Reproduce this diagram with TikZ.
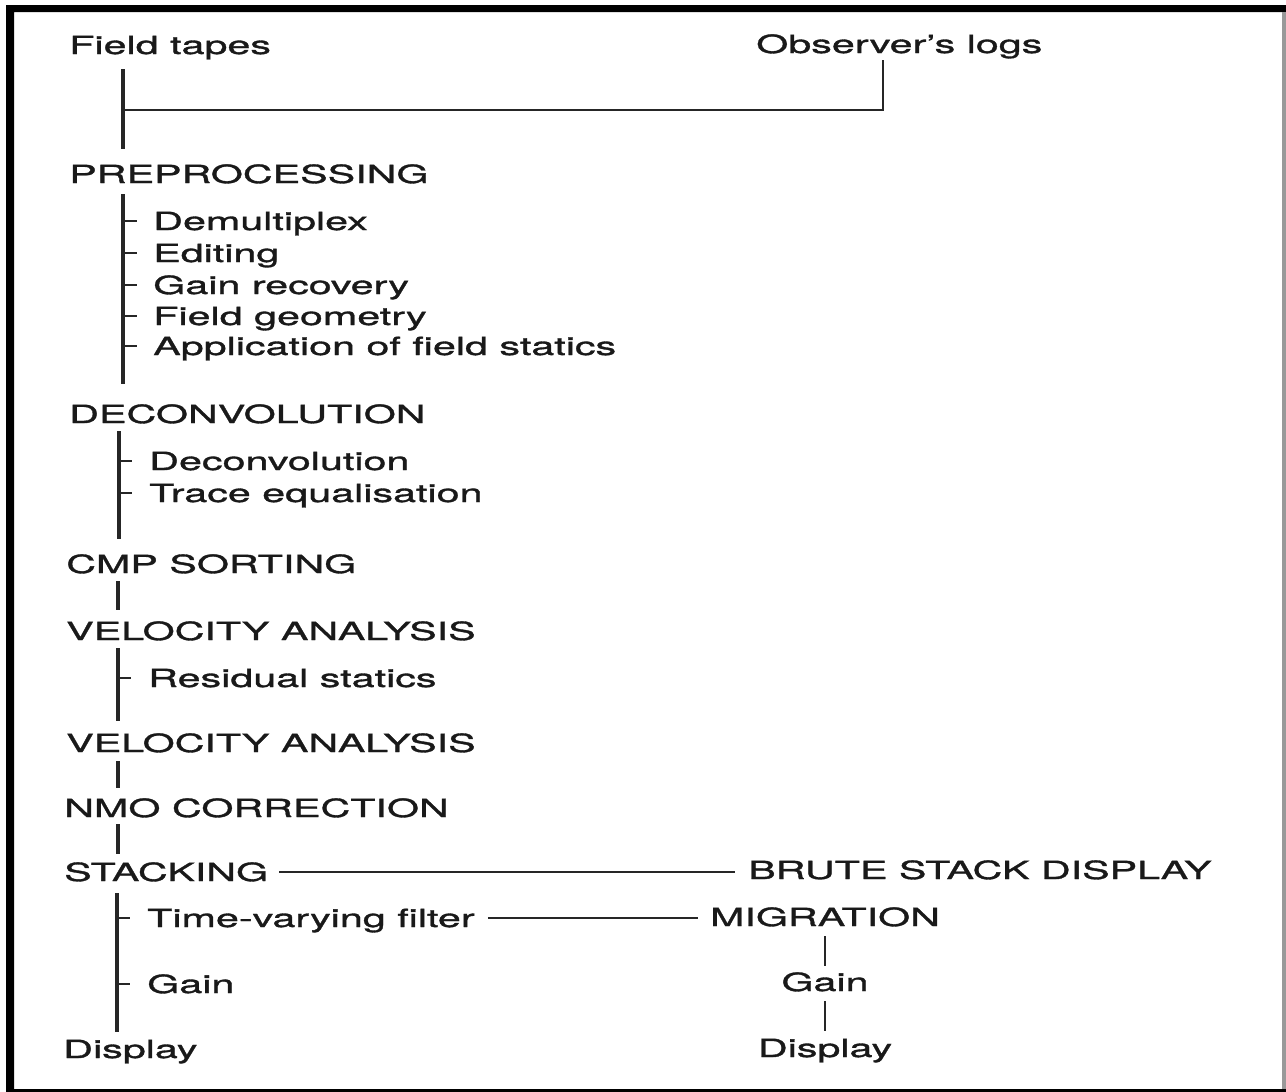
\documentclass[tikz,border=0pt]{standalone}
\usepackage{fontspec}
\setmainfont{TeX Gyre Heros}[FakeStretch=1.65,FakeBold=1.3]

\begin{document}
\begin{tikzpicture}[x=1pt,y=-1pt,line width=2.5pt,black!85,
    every node/.style={inner sep=0pt,text height=18pt,text depth=0pt,anchor=west,
      text=black!90,font=\fontsize{25}{30}\selectfont},
    spine/.style={line width=3.4pt}]
  \useasboundingbox (0,0) rectangle (1286,1092);
  % frame
  \fill[black] (6,5) rectangle (1286,12) (6,5) rectangle (14,1092) (6,1089) rectangle (1286,1092);
  \fill[black!40] (1282,12) rectangle (1286,1089);

  \coordinate (s1) at (123,0); \coordinate (s2) at (119,0);
  \coordinate (s3) at (118,0); \coordinate (s4) at (117,0);
  \coordinate (lg) at (883,0); \coordinate (j1) at (123,110);

  \node (ft) at (68,45) {Field tapes}; \node (ol) at (755,44) {Observer's logs};
  \node (pre) at (68,174) {PREPROCESSING};
  \node (dmx) at (152,221) {Demultiplex}; \node (edt) at (152,253) {Editing};
  \node (grc) at (152,285) {Gain recovery}; \node (fgm) at (152,316) {Field geometry};
  \node (afs) at (152,346) {Application of field statics};
  \node (dec) at (68,414) {DECONVOLUTION};
  \node (dcv) at (148,461) {Deconvolution}; \node (teq) at (148,493) {Trace equalisation};
  \node (cmp) at (65,564) {CMP SORTING};
  \node (va1) at (65,631) {VELOCITY ANALYSIS};
  \node (rst) at (147,678) {Residual statics};
  \node (va2) at (65,743) {VELOCITY ANALYSIS};
  \node (nmo) at (63,808) {NMO CORRECTION};
  \node (stk) at (63,872) {STACKING}; \node (bsd) at (747,870) {BRUTE STACK DISPLAY};
  \node (tvf) at (146,918) {Time-varying filter}; \node[anchor=center] (mig) at (825,917) {MIGRATION};
  \node (gn1) at (146,984) {Gain}; \node[anchor=center] (gn2) at (825,982) {Gain};
  \node (ds1) at (62,1049) {Display}; \node[anchor=center] (ds2) at (825,1048) {Display};

  % main trunk
  \draw[spine,shorten <=14pt,shorten >=15pt] (ft.south -| s1) -- (pre.north -| s1);
  \draw[shorten <=6pt] (ol.south -| lg) -- (lg |- j1) -- (j1);
  \draw[spine,shorten <=10pt,shorten >=20pt] (pre.south -| s1) -- (dec.north -| s1);
  \draw[spine,shorten <=7pt,shorten >=15pt] (dec.south -| s2) -- (cmp.north -| s2);
  \draw[spine,shorten <=7pt,shorten >=11pt] (cmp.south -| s3) -- (va1.north -| s3);
  \draw[spine,shorten <=7pt,shorten >=12pt] (va1.south -| s3) -- (va2.north -| s3);
  \draw[spine,shorten <=8pt,shorten >=10pt] (va2.south -| s3) -- (nmo.north -| s3);
  \draw[spine,shorten <=6pt,shorten >=8pt] (nmo.south -| s3) -- (stk.north -| s3);
  \draw[spine,shorten <=11pt,shorten >=7pt] (stk.south -| s4) -- (ds1.north -| s4);

  % ticks
  \foreach \n in {dmx,edt,grc,fgm,afs} \draw (\n.west -| s1) -- ++(14,0);
  \foreach \n in {dcv,teq} \draw (\n.west -| s2) -- ++(13,0);
  \draw (rst.west -| s3) -- ++(13,0);
  \foreach \n in {tvf,gn1} \draw (\n.west -| s4) -- ++(13,0);

  % side branch
  \draw[shorten <=10pt,shorten >=12pt] (stk.east) -- (stk.east -| bsd.west);
  \draw[shorten <=12pt,shorten >=11pt] (tvf.east) -- (tvf.east -| mig.west);
  \draw[shorten <=9pt,shorten >=6pt] (mig.south) -- (gn2.north);
  \draw[shorten <=9pt,shorten >=7pt] (gn2.south) -- (ds2.north);
\end{tikzpicture}
\end{document}
